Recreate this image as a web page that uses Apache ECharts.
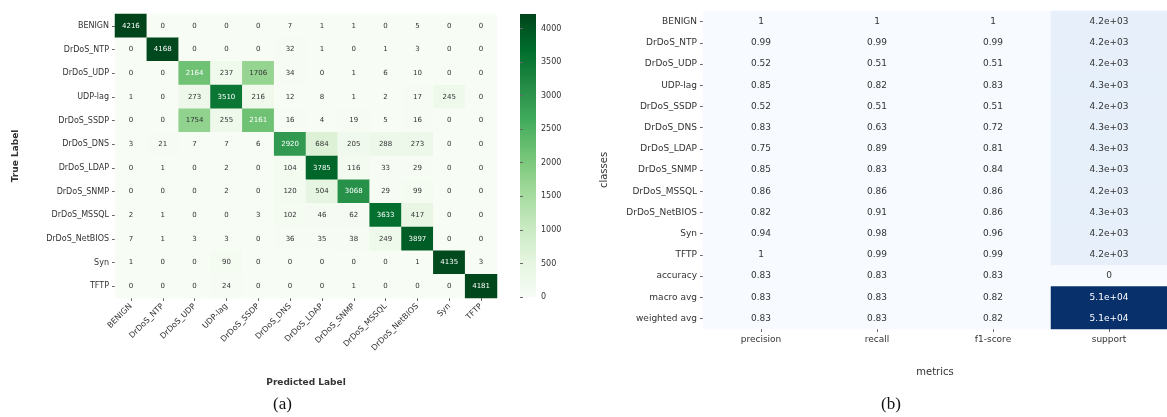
<!DOCTYPE html>
<html>
<head>
<meta charset="utf-8">
<script src="https://cdn.jsdelivr.net/npm/echarts@6/dist/echarts.min.js"></script>
<style>
  body { margin: 0; background: #fff; }
  #chart { width: 1167px; height: 417px; }
</style>
</head>
<body>
<div id="chart"></div>
<script>
// (a) confusion matrix
const classes = ['BENIGN', 'DrDoS_NTP', 'DrDoS_UDP', 'UDP-lag', 'DrDoS_SSDP', 'DrDoS_DNS',
  'DrDoS_LDAP', 'DrDoS_SNMP', 'DrDoS_MSSQL', 'DrDoS_NetBIOS', 'Syn', 'TFTP'];
const confusion = [
  [4216, 0, 0, 0, 0, 7, 1, 1, 0, 5, 0, 0],
  [0, 4168, 0, 0, 0, 32, 1, 0, 1, 3, 0, 0],
  [0, 0, 2164, 237, 1706, 34, 0, 1, 6, 10, 0, 0],
  [1, 0, 273, 3510, 216, 12, 8, 1, 2, 17, 245, 0],
  [0, 0, 1754, 255, 2161, 16, 4, 19, 5, 16, 0, 0],
  [3, 21, 7, 7, 6, 2920, 684, 205, 288, 273, 0, 0],
  [0, 1, 0, 2, 0, 104, 3785, 116, 33, 29, 0, 0],
  [0, 0, 0, 2, 0, 120, 504, 3068, 29, 99, 0, 0],
  [2, 1, 0, 0, 3, 102, 46, 62, 3633, 417, 0, 0],
  [7, 1, 3, 3, 0, 36, 35, 38, 249, 3897, 0, 0],
  [1, 0, 0, 90, 0, 0, 0, 0, 0, 1, 4135, 3],
  [0, 0, 0, 24, 0, 0, 0, 1, 0, 0, 0, 4181]
];
const colorbarStep = 500;

// (b) classification report
const reportRows = classes.concat(['accuracy', 'macro avg', 'weighted avg']);
const metrics = ['precision', 'recall', 'f1-score', 'support'];
const precision = [1, 0.99, 0.52, 0.85, 0.52, 0.83, 0.75, 0.85, 0.86, 0.82, 0.94, 1, 0.83, 0.83, 0.83];
const recall = [1, 0.99, 0.51, 0.82, 0.51, 0.63, 0.89, 0.83, 0.86, 0.91, 0.98, 0.99, 0.83, 0.83, 0.83];
const f1score = [1, 0.99, 0.51, 0.83, 0.51, 0.72, 0.81, 0.84, 0.86, 0.86, 0.96, 0.99, 0.83, 0.82, 0.82];
const support = [4200, 4200, 4200, 4300, 4200, 4300, 4300, 4300, 4200, 4300, 4200, 4200, 0, 51000, 51000];

const greens = ['#f7fcf5', '#e5f5e0', '#c7e9c0', '#a1d99b', '#74c476', '#41ab5d', '#238b45', '#006d2c', '#00441b'];
const blues = ['#f7fbff', '#deebf7', '#c6dbef', '#9ecae1', '#6baed6', '#4292c6', '#2171b5', '#08519c', '#08306b'];

let cmMax = 0;
confusion.forEach(r => r.forEach(v => { if (v > cmMax) cmMax = v; }));

const cmData = [];
confusion.forEach((row, i) => {
  row.forEach((v, j) => {
    cmData.push({ value: [j, i, v], label: { color: v > cmMax * 0.45 ? '#ffffff' : '#333333' } });
  });
});

const reportCols = [precision, recall, f1score, support];
let repMax = 0;
reportCols.forEach(c => c.forEach(v => { if (v > repMax) repMax = v; }));
const repData = [];
reportCols.forEach((col, j) => {
  col.forEach((v, i) => {
    repData.push({ value: [j, i, v], label: { color: v > repMax * 0.5 ? '#ffffff' : '#333333' } });
  });
});

// seaborn style '.2g'
function fmt2g(v) {
  if (v >= 1000) {
    let s = v.toExponential(1);
    return s.replace(/e([+-])(\d)$/, 'e$10$2');
  }
  return String(v);
}

const font = 'DejaVu Sans';
const tickLabel = { fontFamily: font, fontSize: 8, color: '#333' };

// colorbar gradient (top = max)
const cbStops = greens.map((c, i) => ({ offset: 1 - i / (greens.length - 1), color: c }));

let myChart = echarts.init(document.getElementById('chart'));

let option = {
  animation: false,
  backgroundColor: '#ffffff',
  title: [
    { text: '(a)', left: 268, top: 391, textStyle: { fontFamily: 'Liberation Serif', fontSize: 17, fontWeight: 'normal', color: '#111' } },
    { text: '(b)', left: 876, top: 391, textStyle: { fontFamily: 'Liberation Serif', fontSize: 17, fontWeight: 'normal', color: '#111' } }
  ],
  graphic: [
    {
      type: 'rect', left: 520, top: 14, silent: true,
      shape: { width: 16, height: 283 },
      style: { fill: new echarts.graphic.LinearGradient(0, 0, 0, 1, cbStops) }
    }
  ],
  grid: [
    { left: 115, top: 14, width: 382, height: 284 },
    { left: 703, top: 11, width: 470, height: 318 },
    { left: 520, top: 14, width: 16, height: 283 }
  ],
  xAxis: [
    {
      type: 'category', gridIndex: 0, data: classes,
      name: 'Predicted Label', nameLocation: 'middle', nameGap: 80,
      nameTextStyle: { fontFamily: font, fontSize: 9, fontWeight: 'bold', color: '#333' },
      axisLine: { show: false },
      axisTick: { show: true, alignWithLabel: true, length: 3, lineStyle: { color: '#666' } },
      axisLabel: Object.assign({ rotate: 45, interval: 0, margin: 7 }, tickLabel),
      splitLine: { show: false }
    },
    {
      type: 'category', gridIndex: 1, data: metrics,
      name: 'metrics', nameLocation: 'middle', nameGap: 38,
      nameTextStyle: { fontFamily: font, fontSize: 10, color: '#333' },
      axisLine: { show: false },
      axisTick: { show: true, alignWithLabel: true, length: 3, lineStyle: { color: '#666' } },
      axisLabel: { fontFamily: font, fontSize: 9, color: '#333', margin: 6 },
      splitLine: { show: false }
    },
    { type: 'value', gridIndex: 2, show: false, min: 0, max: 1 }
  ],
  yAxis: [
    {
      type: 'category', gridIndex: 0, data: classes, inverse: true,
      name: 'True Label', nameLocation: 'middle', nameGap: 95, nameRotate: 90,
      nameTextStyle: { fontFamily: font, fontSize: 9, fontWeight: 'bold', color: '#333' },
      axisLine: { show: false },
      axisTick: { show: true, alignWithLabel: true, length: 3, lineStyle: { color: '#666' } },
      axisLabel: Object.assign({ interval: 0, margin: 6 }, tickLabel),
      splitLine: { show: false }
    },
    {
      type: 'category', gridIndex: 1, data: reportRows, inverse: true,
      name: 'classes', nameLocation: 'middle', nameGap: 94, nameRotate: 90,
      nameTextStyle: { fontFamily: font, fontSize: 10, color: '#333' },
      axisLine: { show: false },
      axisTick: { show: true, alignWithLabel: true, length: 3, lineStyle: { color: '#666' } },
      axisLabel: { interval: 0, margin: 6, fontFamily: font, fontSize: 9, color: '#333' },
      splitLine: { show: false }
    },
    {
      type: 'value', gridIndex: 2, position: 'right', min: 0, max: cmMax, interval: colorbarStep,
      axisLine: { show: false },
      axisTick: { show: true, length: 3, lineStyle: { color: '#666' } },
      axisLabel: { fontFamily: font, fontSize: 8, color: '#333', margin: 5,
        showMaxLabel: false, formatter: v => String(v) },
      splitLine: { show: false }
    }
  ],
  visualMap: [
    {
      type: 'continuous', seriesIndex: 0, min: 0, max: cmMax, show: false,
      inRange: { color: greens }
    },
    {
      type: 'continuous', seriesIndex: 1, min: 0, max: repMax, show: false,
      inRange: { color: blues }
    }
  ],
  series: [
    {
      name: 'confusion', type: 'heatmap', xAxisIndex: 0, yAxisIndex: 0,
      data: cmData,
      label: { show: true, fontFamily: font, fontSize: 7 },
      emphasis: { disabled: true }
    },
    {
      name: 'report', type: 'heatmap', xAxisIndex: 1, yAxisIndex: 1,
      data: repData,
      label: { show: true, fontFamily: font, fontSize: 9, formatter: p => fmt2g(p.value[2]) },
      emphasis: { disabled: true }
    }
  ]
};

myChart.setOption(option);
</script>
</body>
</html>
